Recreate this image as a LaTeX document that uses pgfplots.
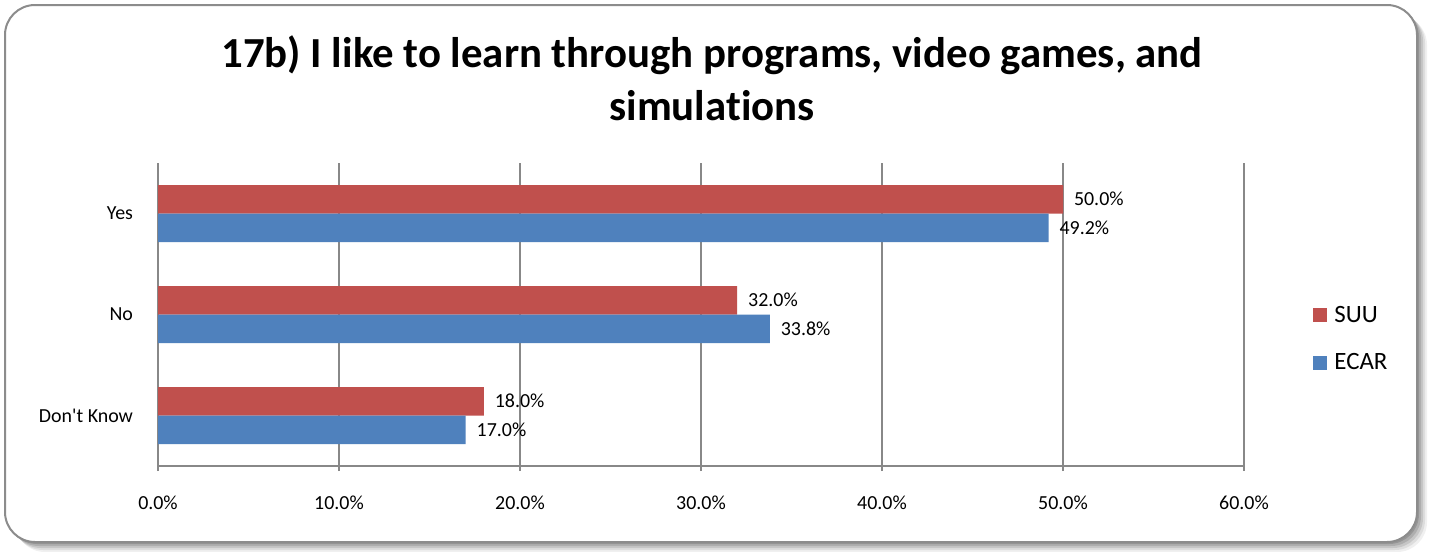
\documentclass[border=0pt]{standalone}
\usepackage{pgfplots}
\pgfplotsset{compat=1.18}
\usepackage{fontspec}
\setmainfont{Carlito}[Ligatures={TeXOff,NoCommon}]
\definecolor{suu}{HTML}{C0504D}
\definecolor{ecar}{HTML}{4F81BD}
\definecolor{gridc}{HTML}{888888}
\begin{document}
\begin{tikzpicture}
\path (0,0) rectangle (715bp,-272bp);
% shadow
\foreach \k/\o in {5/0.06,4/0.08,3/0.10,2/0.12,1/0.14}{
  \fill[black,opacity=\o,rounded corners=15bp] (2.5bp+\k*1bp,-2.5bp-\k*1bp) rectangle (708.5bp+\k*1bp,-271bp-\k*1bp);
}
\draw[fill=white,draw=gray!90,line width=1bp,rounded corners=15bp] (2.5bp,-2.5bp) rectangle (708.5bp,-271bp);
\node[align=center,font=\fontsize{21.5}{26.5}\selectfont\bfseries] at (356bp,-39bp)
  {17b) I like to learn through programs, video games, and\\simulations};
\begin{axis}[
  at={(79bp,-233bp)}, anchor=south west,
  scale only axis, width=543bp, height=151.5bp,
  xbar, bar width=14.25bp,
  xmin=0, xmax=60, ymin=-0.5, ymax=2.5,
  xtick={0,10,20,30,40,50,60},
  xticklabels={0.0\%,10.0\%,20.0\%,30.0\%,40.0\%,50.0\%,60.0\%},
  ytick={0,1,2}, yticklabels={Don't Know,No,Yes},
  axis lines*=left,
  axis line style={gridc,line width=0.75bp},
  xmajorgrids, major grid style={gridc,line width=0.75bp},
  tick align=outside, major tick length=2.5bp,
  tick style={gridc,line width=0.75bp},
  ytick style={draw=none},
  extra y ticks={-0.5,0.5,1.5,2.5}, extra y tick labels={},
  extra y tick style={tick style={gridc,line width=0.75bp}, major tick length=2.5bp},
  ticklabel style={font=\fontsize{10}{12}\selectfont},
  xticklabel style={yshift=-9bp},
  yticklabel style={xshift=-6.5bp},
  nodes near coords, point meta=explicit symbolic,
  nodes near coords style={font=\fontsize{10}{12}\selectfont, anchor=west, xshift=2bp},
  legend style={at={(1.0635,0.419)}, anchor=west, draw=none, fill=none,
    font=\fontsize{12.5}{14}\selectfont, row sep=10bp, inner sep=0pt,
    nodes={inner xsep=3.5bp}},
  legend cell align=left,
  legend image code/.code={\fill[#1] (0bp,-3.5bp) rectangle (7bp,3.5bp);},
]
\addplot[fill=suu, draw=none, bar shift=7.125bp] coordinates {(18,0) [18.0\%] (32,1) [32.0\%] (50,2) [50.0\%]};
\addplot[fill=ecar, draw=none, bar shift=-7.125bp] coordinates {(17,0) [17.0\%] (33.8,1) [33.8\%] (49.2,2) [49.2\%]};
\legend{SUU,ECAR}
\end{axis}
\end{tikzpicture}
\end{document}
